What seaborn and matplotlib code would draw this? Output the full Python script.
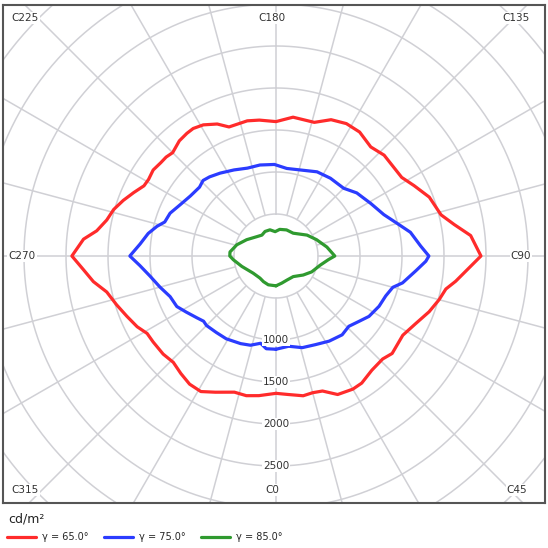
"""
Luminance polar diagram (cd/m2) for three gamma angles.
"""

import numpy as np
import pandas as pd
import matplotlib
matplotlib.use("Agg")
import matplotlib.pyplot as plt
import seaborn as sns

# --- data (C-plane angle in degrees, luminance cd/m2) ---
series_names = ["γ = 65.0°", "γ = 75.0°", "γ = 85.0°"]
series_colors = ["#ff2b2b", "#2b3cff", "#2f9a2f"]

red_c = [0, 5, 11, 15, 19, 24, 30, 34, 40, 46, 50, 58, 64, 70, 75, 79, 82, 90,
         96, 100, 104, 111, 117, 122, 133, 139, 146, 152, 158, 164, 173, 180,
         187, 192, 200, 204, 209, 213, 216, 220, 225, 228, 231, 235, 239, 242,
         246, 250, 254, 258, 262, 265, 270, 274, 278, 282, 287, 292, 297, 301,
         305, 311, 316, 321, 326, 331, 336, 343, 348, 353]
red_l = [1635, 1655, 1695, 1685, 1700, 1805, 1830, 1825, 1775, 1765, 1805, 1780,
         1845, 1940, 2010, 2060, 2160, 2440, 2330, 2155, 2025, 1955, 1845, 1765,
         1760, 1720, 1780, 1785, 1750, 1655, 1665, 1600, 1630, 1645, 1635, 1720,
         1785, 1810, 1805, 1790, 1740, 1760, 1765, 1785, 1770, 1780, 1855, 1935,
         2010, 2060, 2155, 2300, 2430, 2300, 2195, 2060, 1985, 1915, 1855, 1790,
         1785, 1780, 1760, 1800, 1840, 1845, 1775, 1695, 1700, 1675]

blue_c = [0, 8, 16, 24, 32, 40, 46, 52, 57, 64, 70, 75, 78, 84, 88, 90, 94, 100,
          105, 111, 119, 128, 135, 145, 154, 164, 173, 181, 190, 198, 206, 214,
          220, 224, 228, 235, 242, 248, 253, 256, 260, 265, 270, 274, 279, 285,
          291, 297, 302, 308, 312, 315, 322, 329, 338, 344, 350, 354]
blue_l = [1110, 1085, 1135, 1155, 1195, 1225, 1205, 1260, 1320, 1365, 1390, 1440,
          1540, 1675, 1785, 1820, 1725, 1625, 1495, 1375, 1290, 1220, 1140, 1130,
          1115, 1065, 1050, 1090, 1100, 1100, 1140, 1190, 1230, 1250, 1225, 1245,
          1295, 1360, 1385, 1460, 1545, 1625, 1740, 1625, 1520, 1430, 1350, 1325,
          1260, 1195, 1160, 1170, 1155, 1150, 1125, 1105, 1055, 1110]

green_c = [0, 12, 24, 40, 55, 66, 78, 86, 90, 100, 112, 124, 143, 158, 172, 182,
           193, 204, 214, 225, 241, 254, 265, 270, 275, 287, 307, 324, 334, 345]
green_l = [355, 330, 315, 320, 395, 465, 535, 625, 700, 615, 520, 445, 340, 335,
           320, 290, 320, 320, 300, 325, 400, 485, 550, 550, 510, 425, 340, 325,
           340, 355]

ring_values = [500, 1000, 1500, 2000, 2500, 3000, 3500, 4000]
ring_labels = [1000, 1500, 2000, 2500]
spoke_angles = list(range(0, 360, 15))
c_labels = {"C225": (25, 18), "C180": (272, 18), "C135": (516, 18),
            "C270": (22, 256), "C90": (521, 256),
            "C315": (25, 490), "C0": (272, 490), "C45": (517, 490)}


def to_xy(c_deg, lum):
    # C0 points down, C90 right, C180 up, C270 left
    t = np.radians(np.asarray(c_deg, dtype=float))
    lum = np.asarray(lum, dtype=float)
    return lum * np.sin(t), -lum * np.cos(t)


frames = []
for name, cs, ls in zip(series_names, [red_c, blue_c, green_c], [red_l, blue_l, green_l]):
    x, y = to_xy(cs + cs[:1], ls + ls[:1])
    frames.append(pd.DataFrame({"x": x, "y": y, "series": name}))
df = pd.concat(frames, ignore_index=True)

sns.set_style("white")
plt.rcParams["font.family"] = ["DejaVu Sans"]

W = 548
fig = plt.figure(figsize=(W / 100, W / 100), dpi=100)
ax = fig.add_axes([3 / W, 45 / W, 542 / W, 498 / W])
unit = 500 / 42  # cd/m2 per pixel
ax.set_xlim(-273 * unit, 269 * unit)
ax.set_ylim(-247 * unit, 251 * unit)

# grid rings and spokes
grid_col = "#d0d0d5"
th = np.linspace(0, 2 * np.pi, 400)
for r in ring_values:
    ax.plot(r * np.sin(th), r * np.cos(th), color=grid_col, lw=1.1, zorder=1)
for a in spoke_angles:
    x0, y0 = to_xy([a, a], [ring_values[0], 6000])
    ax.plot(x0, y0, color=grid_col, lw=1.1, zorder=1)

sns.lineplot(data=df, x="x", y="y", hue="series", units="series", estimator=None,
             sort=False, palette=series_colors, lw=2.3, ax=ax, zorder=3, legend=False)

for v in ring_labels:
    ax.text(0, -v, f"{v}", ha="center", va="center", fontsize=7.5, color="#333333",
            zorder=4, bbox=dict(boxstyle="square,pad=0.1", fc="white", ec="none"))

for txt, (px, py) in c_labels.items():
    fig.text(px / W, 1 - py / W, txt, ha="center", va="center", fontsize=7.5,
             color="#333333", zorder=5,
             bbox=dict(boxstyle="square,pad=0.1", fc="white", ec="none"))

ax.set_xticks([])
ax.set_yticks([])
ax.set_xlabel("")
ax.set_ylabel("")
for s in ax.spines.values():
    s.set_visible(True)
    s.set_color("#555555")
    s.set_linewidth(1.5)

fig.text(8 / W, 1 - 519 / W, "cd/m²", ha="left", va="center", fontsize=9, color="#222222")
handles = [plt.Line2D([], [], color=c, lw=2.3) for c in series_colors]
fig.legend(handles, series_names, loc="center left", bbox_to_anchor=(7 / W, 1 - 537 / W),
           ncol=3, frameon=False, fontsize=7, handlelength=3.0, handletextpad=0.6,
           columnspacing=1.6, borderaxespad=0, borderpad=0)

fig.savefig("out.png", dpi=100)
